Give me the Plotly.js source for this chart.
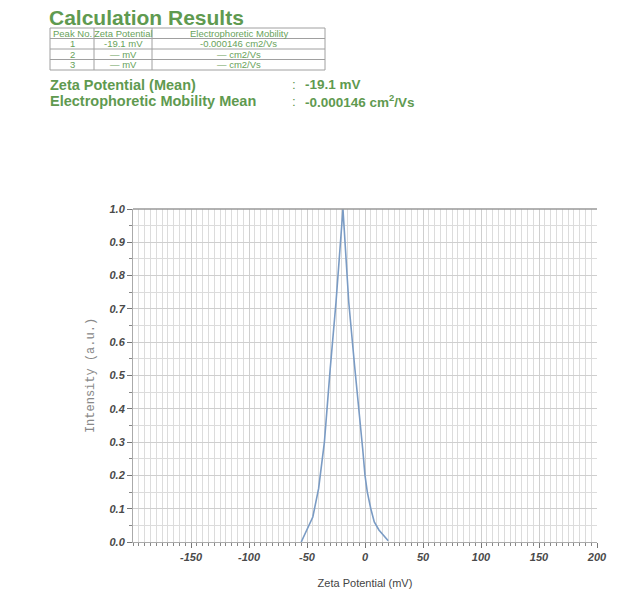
<!DOCTYPE html>
<html>
<head>
<meta charset="utf-8">
<script src="https://cdn.plot.ly/plotly-3.0.1.min.js"></script>
<style>
  html, body { margin: 0; padding: 0; background: #ffffff; }
  #chart { width: 621px; height: 597px; }
</style>
</head>
<body>
<div id="chart"></div>
<script>
// ---- Data ----
const zetaPotentialMV = [-55, -50, -45, -40, -35, -30, -25, -19, -14, -9, -4, -2, 0, 2, 5, 8, 12, 16, 20];
const intensity       = [0.0, 0.035, 0.075, 0.16, 0.30, 0.52, 0.72, 1.0, 0.72, 0.53, 0.36, 0.28, 0.2, 0.15, 0.1, 0.06, 0.036, 0.02, 0.004];

const xTickVals = [-150, -100, -50, 0, 50, 100, 150, 200];
const yTickVals = [0.0, 0.1, 0.2, 0.3, 0.4, 0.5, 0.6, 0.7, 0.8, 0.9, 1.0];

const resultsTitle = "Calculation Results";
const tableHeader = ["Peak No.", "Zeta Potential", "Electrophoretic Mobility"];
const peakNo      = ["1", "2", "3"];
const peakZeta    = ["-19.1 mV", "— mV", "— mV"];
const peakMob     = ["-0.000146 cm2/Vs", "— cm2/Vs", "— cm2/Vs"];
const summaryLabels = ["Zeta Potential (Mean)", "Electrophoretic Mobility Mean"];
const summaryValues = ["-19.1 mV", "-0.000146 cm<sup>2</sup>/Vs"];

// ---- Layout geometry (pixels) ----
const W = 621, H = 597;
const M = { l: 133, r: 24, t: 209, b: 55 };
const PW = W - M.l - M.r, PH = H - M.t - M.b;
const px = x => (x - M.l) / PW;
const py = y => (H - M.b - y) / PH;

const green = "#5f9a50";
const tgreen = "#68a25a";
const tableLine = "#a0a0a0";
const sans = "Liberation Sans, Arial, sans-serif";

const annotations = [];
const shapes = [];

// Title
annotations.push({ xref: "paper", yref: "paper", x: px(47), y: py(18), xanchor: "left", yanchor: "middle",
  text: "<b>" + resultsTitle + "</b>", showarrow: false,
  font: { family: sans, size: 21, color: green } });

// Table
const colX = [50, 94, 152, 325];
const rowY = [28, 38.5, 49, 59.5, 70];
rowY.forEach(y => shapes.push({ type: "line", xref: "paper", yref: "paper",
  x0: px(colX[0]), x1: px(colX[3]), y0: py(y), y1: py(y), line: { color: tableLine, width: 1 } }));
colX.forEach(x => shapes.push({ type: "line", xref: "paper", yref: "paper",
  x0: px(x), x1: px(x), y0: py(rowY[0]), y1: py(rowY[4]), line: { color: tableLine, width: 1 } }));

const cellFont = { family: sans, size: 9.5, color: tgreen };
function cell(text, c, r) {
  annotations.push({ xref: "paper", yref: "paper",
    x: px((colX[c] + colX[c + 1]) / 2), y: py((rowY[r] + rowY[r + 1]) / 2),
    xanchor: "center", yanchor: "middle", text: text, showarrow: false, font: cellFont });
}
tableHeader.forEach((t, i) => cell(t, i, 0));
peakNo.forEach((t, i) => cell(t, 0, i + 1));
peakZeta.forEach((t, i) => cell(t, 1, i + 1));
peakMob.forEach((t, i) => cell(t, 2, i + 1));

// Summary lines
const sumY = [85, 101];
const labFont = { family: sans, size: 14.5, color: green };
const valFont = { family: sans, size: 13.5, color: green };
summaryLabels.forEach((t, i) => {
  annotations.push({ xref: "paper", yref: "paper", x: px(48), y: py(sumY[i]), xanchor: "left", yanchor: "middle",
    text: "<b>" + t + "</b>", showarrow: false, font: labFont });
  annotations.push({ xref: "paper", yref: "paper", x: px(290), y: py(sumY[i]), xanchor: "left", yanchor: "middle",
    text: ":", showarrow: false, font: valFont });
  annotations.push({ xref: "paper", yref: "paper", x: px(303), y: py(sumY[i]), xanchor: "left", yanchor: "middle",
    text: "<b>" + summaryValues[i] + "</b>", showarrow: false, font: valFont });
});

const tickFont = { family: sans, size: 11, color: "#4a4a4a", weight: "bold", style: "italic" };

const trace = {
  x: zetaPotentialMV, y: intensity, type: "scatter", mode: "lines",
  line: { color: "#7a9bc4", width: 1.6 }, hoverinfo: "skip"
};

const layout = {
  width: W, height: H,
  margin: M,
  paper_bgcolor: "#ffffff", plot_bgcolor: "#ffffff",
  showlegend: false,
  xaxis: {
    range: [-200, 200], tickmode: "array", tickvals: xTickVals,
    ticktext: xTickVals.map(String),
    showgrid: true, gridcolor: "#cfcfcf", gridwidth: 1,
    ticks: "outside", ticklen: 5, tickcolor: "#777", tickwidth: 1,
    minor: { dtick: 5, tick0: 0, showgrid: true, gridcolor: "#dcdcdc", gridwidth: 1, ticks: "outside", ticklen: 3, tickcolor: "#888" },
    showline: true, linecolor: "#aaa", linewidth: 1, mirror: false,
    zeroline: false, tickfont: tickFont,
    title: { text: "Zeta Potential (mV)", standoff: 17,
      font: { family: sans, size: 11, color: "#444" } }
  },
  yaxis: {
    range: [0, 1], tickmode: "array", tickvals: yTickVals,
    ticktext: yTickVals.map(v => v.toFixed(1)),
    showgrid: true, gridcolor: "#cfcfcf", gridwidth: 1,
    ticks: "outside", ticklen: 5, tickcolor: "#777", tickwidth: 1,
    minor: { dtick: 0.05, tick0: 0, showgrid: true, gridcolor: "#dcdcdc", gridwidth: 1, ticks: "outside", ticklen: 3, tickcolor: "#888" },
    showline: true, linecolor: "#aaa", linewidth: 1, mirror: false,
    zeroline: false, tickfont: tickFont,
    title: { text: "Intensity (a.u.)", standoff: 12,
      font: { family: "Liberation Mono, Courier New, monospace", size: 12, color: "#888" } }
  },
  shapes: shapes.concat([
    { type: "line", xref: "paper", yref: "paper", x0: 0, x1: 1, y0: 1, y1: 1, line: { color: "#999", width: 1.5 } }
  ]),
  annotations: annotations
};

Plotly.newPlot("chart", [trace], layout, { staticPlot: true, displayModeBar: false });
</script>
</body>
</html>
